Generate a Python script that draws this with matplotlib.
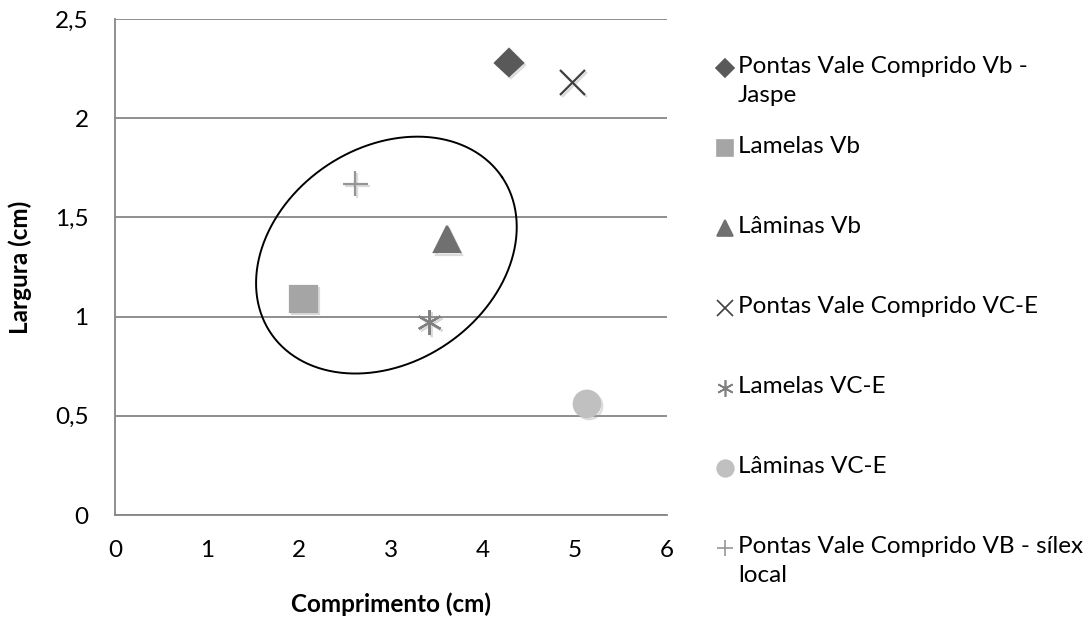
import numpy as np
import matplotlib
matplotlib.use('Agg')
import matplotlib.pyplot as plt
from matplotlib.lines import Line2D
import matplotlib.patheffects as pe

plt.rcParams['font.family'] = ['Lato', 'DejaVu Sans']

# data (comprimento, largura) in cm
series_names = ['Pontas Vale Comprido Vb -\nJaspe', 'Lamelas Vb', 'Lâminas Vb',
                'Pontas Vale Comprido VC-E', 'Lamelas VC-E', 'Lâminas VC-E',
                'Pontas Vale Comprido VB - sílex\nlocal']
comprimento = [4.28, 2.05, 3.61, 4.97, 3.42, 5.13, 2.61]
largura = [2.28, 1.09, 1.39, 2.18, 0.97, 0.56, 1.67]

x_ticks = [0, 1, 2, 3, 4, 5, 6]
y_ticks = [0, 0.5, 1, 1.5, 2, 2.5]
y_labels = ['0', '0,5', '1', '1,5', '2', '2,5']

# marker styles per series
markers = ['D', 's', '^', 'x', (6, 2, 0), 'o', '+']
colors = ['#595959', '#a5a5a5', '#707070', '#404040', '#808080', '#c0c0c0', '#969696']
sizes = [14, 19, 19, 18, 18, 19, 18]
leg_sizes = [9, 12, 12, 12, 12, 12, 12]

FS = 17.5
W, H = 1087, 625
fig = plt.figure(figsize=(W / 100, H / 100), dpi=100)
ax = fig.add_axes([115 / W, 1 - 515 / H, (667 - 115) / W, (515 - 19) / H])

shadow = [pe.SimpleLineShadow(offset=(1.5, -1.5), shadow_color='#999999', alpha=0.35), pe.Normal()]
for i in range(len(series_names)):
    ax.plot(comprimento[i], largura[i], linestyle='none', marker=markers[i],
            markersize=sizes[i], color=colors[i], markeredgecolor=colors[i],
            markeredgewidth=1.6, zorder=3, path_effects=shadow)

ax.set_xlim(0, 6)
ax.set_ylim(0, 2.5)
ax.set_xticks(x_ticks)
ax.set_yticks(y_ticks)
ax.set_yticklabels(y_labels)
ax.tick_params(length=0, labelsize=FS)
ax.tick_params(axis='y', pad=19)
ax.tick_params(axis='x', pad=18)
ax.grid(axis='y', color='#868686', linewidth=1.3)
ax.set_axisbelow(True)
for s in ['top', 'right']:
    ax.spines[s].set_visible(False)
for s in ['left', 'bottom']:
    ax.spines[s].set_color('#868686')
    ax.spines[s].set_linewidth(1.3)

ax.set_xlabel('Comprimento (cm)', fontsize=FS, fontweight='bold')
ax.set_ylabel('Largura (cm)', fontsize=FS, fontweight='bold')
ax.xaxis.set_label_coords(0.5, (515 - 604) / 496)
ax.xaxis.label.set_va('center')
ax.yaxis.set_label_coords((20 - 115) / 552, 0.5)
ax.yaxis.label.set_va('center')

# hand-drawn ellipse around the central cluster (pixel sizes converted to data)
sx = (667 - 115) / 6.0
sy = (515 - 19) / 2.5
cx, cy = 2.95, 1.31
a_px, b_px, ang = 139.5, 107.5, np.radians(34)
t = np.linspace(0, 2 * np.pi, 400)
ex = cx + (a_px * np.cos(ang) * np.cos(t) - b_px * np.sin(ang) * np.sin(t)) / sx
ey = cy + (a_px * np.sin(ang) * np.cos(t) + b_px * np.cos(ang) * np.sin(t)) / sy
ax.plot(ex, ey, color='black', linewidth=1.4, zorder=4)

# legend drawn by hand, equally spaced slots
leg_y0 = 68
leg_step = 80
for i, name in enumerate(series_names):
    yy = 1 - (leg_y0 + i * leg_step) / H
    fig.add_artist(Line2D([725 / W], [yy], marker=markers[i], markersize=leg_sizes[i],
                          color=colors[i], markeredgecolor=colors[i], markeredgewidth=1.2,
                          linestyle='none', transform=fig.transFigure))
    fig.text(738 / W, yy + 12 / H, name, ha='left', va='top', fontsize=FS,
             linespacing=1.45)

fig.savefig('out.png', dpi=100)
